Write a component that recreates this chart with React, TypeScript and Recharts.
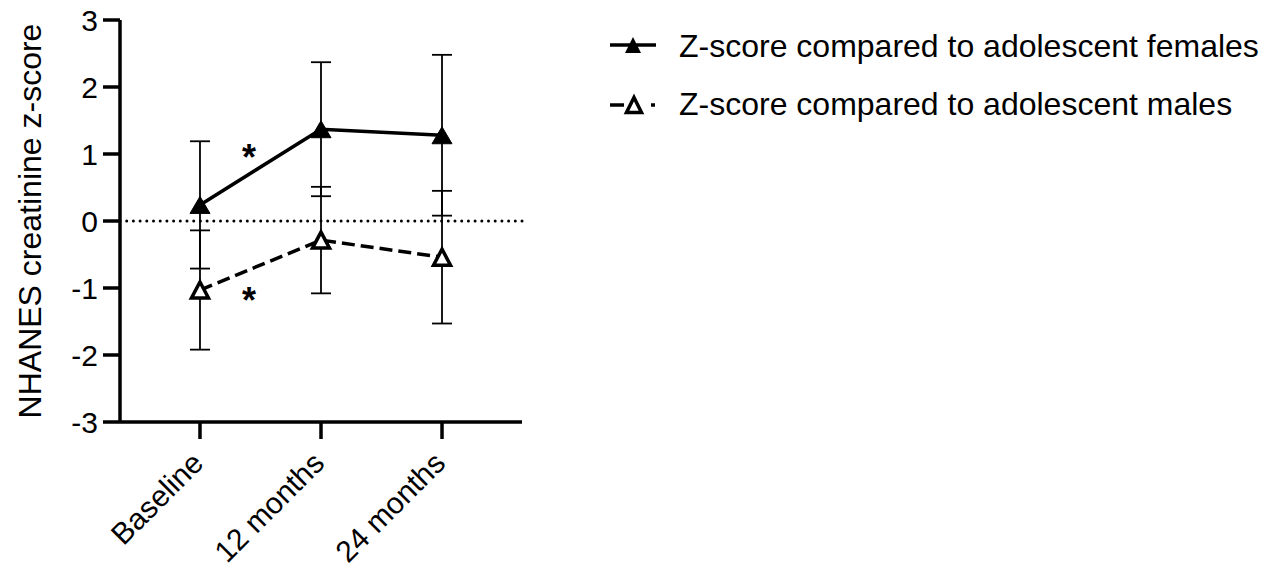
import React from 'react';
import { LineChart, Line, XAxis, YAxis, ErrorBar, ReferenceLine, ReferenceDot, Legend } from 'recharts';

const categories = ['Baseline', '12 months', '24 months'];
const femaleMean = [0.24, 1.37, 1.28];
const femaleErr = [0.95, 1.0, 1.2];
const maleMean = [-1.03, -0.285, -0.54];
const maleErr = [0.89, 0.795, 0.99];
const yTicks = [-3, -2, -1, 0, 1, 2, 3];
const xTicks = [0, 1, 2];
const seriesNames = ['Z-score compared to adolescent females', 'Z-score compared to adolescent males'];
const yLabel = 'NHANES creatinine z-score';
const asteriskX = [0.405, 0.405];
const asteriskY = [1.04, -1.09];

const data = categories.map((c, i) => ({
  x: i,
  name: c,
  female: femaleMean[i],
  fErr: femaleErr[i],
  male: maleMean[i],
  mErr: maleErr[i],
}));

const FONT = "'Liberation Sans', Arial, Helvetica, sans-serif";

const triPath = (cx: number, cy: number, w: number, h: number) =>
  `M${cx},${cy - h / 2} L${cx + w / 2},${cy + h / 2} L${cx - w / 2},${cy + h / 2} Z`;

const FilledTri = (props: any) => {
  const { cx, cy, index } = props;
  if (cx == null || cy == null) return null;
  return <path key={`f-${index}`} d={triPath(cx, cy, 20, 17)} fill="#000" stroke="#000" strokeWidth={1} />;
};

const OpenTri = (props: any) => {
  const { cx, cy, index } = props;
  if (cx == null || cy == null) return null;
  return (
    <path key={`m-${index}`} d={triPath(cx, cy, 17, 16)} fill="#fff" stroke="#000" strokeWidth={3.5} strokeLinejoin="miter" />
  );
};

const XTick = (props: any) => {
  const { x, y, payload } = props;
  const ax = x + 5;
  const ay = y + 26;
  return (
    <text x={ax} y={ay} transform={`rotate(-45, ${ax}, ${ay})`} textAnchor="end" fontSize={30} fontFamily={FONT} fill="#000">
      {categories[payload.value]}
    </text>
  );
};

const YTick = (props: any) => {
  const { x, y, payload } = props;
  return (
    <text x={x} y={y} dy={10.5} textAnchor="end" fontSize={30} fontFamily={FONT} fill="#000">
      {String(payload.value)}
    </text>
  );
};

const renderLegend = () => (
  <svg width={665} height={110} style={{ display: 'block' }}>
    <line x1={10} y1={25} x2={56} y2={25} stroke="#000" strokeWidth={3.5} />
    <path d={triPath(33, 25, 16, 16)} fill="#000" />
    <text x={79} y={37} fontSize={32} fontFamily={FONT} fill="#000">{seriesNames[0]}</text>
    <line x1={10} y1={85} x2={24} y2={85} stroke="#000" strokeWidth={3.5} />
    <path d={triPath(34, 85, 15, 15)} fill="#fff" stroke="#000" strokeWidth={3.5} />
    <line x1={51} y1={85} x2={55} y2={85} stroke="#000" strokeWidth={3.5} />
    <text x={79} y={95} fontSize={32} fontFamily={FONT} fill="#000">{seriesNames[1]}</text>
  </svg>
);

const Asterisk = (props: any) => {
  const { cx, cy } = props;
  return (
    <text x={cx} y={cy} dy={19} textAnchor="middle" fontSize={36} fontWeight="bold" fontFamily={FONT} fill="#000">
      *
    </text>
  );
};

export default function App() {
  return (
    <div style={{ width: 1265, height: 558, position: 'relative', background: '#fff' }}>
      <LineChart
        width={1265}
        height={558}
        data={data}
        margin={{ top: 12, right: 751, bottom: 0, left: 0 }}
      >
        <XAxis
          dataKey="x"
          type="number"
          domain={[-0.661, 2.661]}
          ticks={xTicks}
          allowDataOverflow
          height={144}
          axisLine={{ stroke: '#000', strokeWidth: 3.5 }}
          tickLine={{ stroke: '#000', strokeWidth: 3.5 }}
          tickSize={17}
          tickMargin={0}
          tick={<XTick />}
          interval={0}
        />
        <YAxis
          type="number"
          domain={[-3, 3]}
          ticks={yTicks}
          width={112}
          axisLine={{ stroke: '#000', strokeWidth: 3.5 }}
          tickLine={{ stroke: '#000', strokeWidth: 3.5 }}
          tickSize={17}
          tickMargin={5}
          interval={0}
          tick={<YTick />}
          label={{
            content: (p: any) => {
              const vb = p.viewBox || { x: 0, y: 12, width: 112, height: 402 };
              const cx = 21.6;
              const cy = vb.y + vb.height / 2;
              return (
                <text
                  x={cx}
                  y={cy}
                  dy={11.4}
                  transform={`rotate(-90, ${cx}, ${cy})`}
                  textAnchor="middle"
                  fontSize={32}
                  fontFamily={FONT}
                  fill="#000"
                >
                  {yLabel}
                </text>
              );
            },
          }}
        />
        <ReferenceLine y={0} stroke="#000" strokeWidth={3} strokeDasharray="0 6.7" strokeLinecap="round" />
        <Line
          dataKey="female"
          stroke="#000"
          strokeWidth={3.5}
          dot={(p: any) => <FilledTri key={`f-${p.index}`} {...p} />}
          activeDot={false}
          isAnimationActive={false}
        >
          <ErrorBar dataKey="fErr" direction="y" width={10} stroke="#000" strokeWidth={1.8} />
        </Line>
        <Line
          dataKey="male"
          stroke="#000"
          strokeWidth={3.5}
          strokeDasharray="13 6"
          dot={(p: any) => <OpenTri key={`m-${p.index}`} {...p} />}
          activeDot={false}
          isAnimationActive={false}
        >
          <ErrorBar dataKey="mErr" direction="y" width={10} stroke="#000" strokeWidth={1.8} />
        </Line>
        {asteriskX.map((ax, i) => (
          <ReferenceDot key={`a-${i}`} x={ax} y={asteriskY[i]} r={0} shape={(p: any) => <Asterisk {...p} />} />
        ))}
        <Legend
          content={renderLegend}
          layout="vertical"
          align="center"
          verticalAlign="middle"
          wrapperStyle={{ position: 'absolute', left: 592, top: 12, width: 665, height: 110 }}
        />
      </LineChart>
    </div>
  );
}
